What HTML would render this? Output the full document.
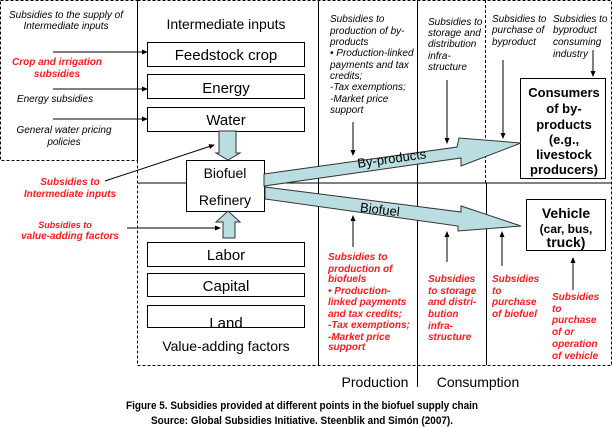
<!DOCTYPE html>
<html><head><meta charset="utf-8"><style>
html,body{margin:0;padding:0;background:#fff;width:613px;height:428px;overflow:hidden}
svg{display:block}
text{font-family:"Liberation Sans",Arial,sans-serif}
.it{font-style:italic;font-size:10px;fill:#000}
.r{font-style:italic;font-weight:bold;font-size:10px;fill:#ff1a1a}
.b{font-size:14px;fill:#000}
</style></head><body>
<svg width="613" height="428" viewBox="0 0 613 428" xmlns="http://www.w3.org/2000/svg">
<defs><marker id="a" markerWidth="6" markerHeight="6" refX="5" refY="3" orient="auto" markerUnits="userSpaceOnUse"><path d="M0,0.5 L6,3 L0,5.5z" fill="#000"/></marker>
<clipPath id="lc"><rect x="147" y="305" width="158" height="22"/></clipPath></defs>
<g fill="none" stroke="#000" stroke-width="1">
<rect x="0.5" y="0.5" width="137" height="160" stroke-dasharray="3,2"/>
<path d="M137.5,0.5 H611.5 V365.5 H137.5 Z" stroke-dasharray="3,2"/>
<line x1="137" y1="183" x2="611" y2="183"/>
<line x1="318.5" y1="0" x2="318.5" y2="365"/>
<line x1="417.5" y1="0" x2="417.5" y2="387"/>
<line x1="486.5" y1="183" x2="486.5" y2="365"/>
<path d="M485.5,0 V183 M486,183 H611" stroke-dasharray="3,2"/>
<rect x="147.5" y="42.5" width="157" height="24"/>
<rect x="147.5" y="74.5" width="157" height="24"/>
<rect x="147.5" y="107.5" width="157" height="24"/>
<rect x="186.5" y="160.5" width="78" height="51" fill="#fff"/>
<rect x="147.5" y="242.5" width="157" height="24"/>
<rect x="147.5" y="273.5" width="157" height="23"/>
<rect x="147.5" y="305.5" width="157" height="22"/>
<rect x="520.5" y="78.5" width="85" height="100"/>
<rect x="526.5" y="199.5" width="79" height="51"/>
</g>
<g fill="#b9dde0" stroke="#333" stroke-width="1">
<path d="M219,131 H236 V153 H240 L228,160 L216,153 H219 Z"/>
<path d="M228,211 L240,222 H235 V238 H223 V222 H216 Z"/>
<path d="M264,174 L457,147 L459,138 L521,143 L461,166 L461,158 L264,186 Z"/>
<path d="M265,187 L461,212 L461,206 L521,226 L458,231 L458,226 L265,199 Z"/>
</g>
<g stroke="#000" stroke-width="1" marker-end="url(#a)">
<line x1="53" y1="52" x2="147" y2="52"/>
<line x1="53" y1="89" x2="147" y2="89"/>
<line x1="53" y1="119" x2="147" y2="119"/>
<line x1="105" y1="181" x2="214" y2="145"/>
<line x1="127" y1="228" x2="220" y2="228"/>
<line x1="353" y1="122" x2="353" y2="155"/>
<line x1="447" y1="80" x2="447" y2="143"/>
<line x1="503" y1="60" x2="503" y2="138"/>
<line x1="593" y1="50" x2="593" y2="76"/>
<line x1="353" y1="247" x2="353" y2="216"/>
<line x1="447" y1="262" x2="447" y2="232"/>
<line x1="502" y1="266" x2="502" y2="232"/>
<line x1="573" y1="290" x2="573" y2="258"/>
</g>
<g class="it" text-anchor="middle">
<text x="66" y="18">Subsidies to the supply of</text>
<text x="66" y="29">Intermediate inputs</text>
<text x="55" y="102">Energy subsidies</text>
<text x="64" y="133">General water pricing</text>
<text x="64" y="145">policies</text>
</g>
<g class="r" text-anchor="middle">
<text x="57" y="65">Crop  and irrigation</text>
<text x="57" y="77">subsidies</text>
<text x="70" y="185">Subsidies to</text>
<text x="70" y="197">Intermediate inputs</text>
<text x="65" y="228" font-size="9">Subsidies to</text>
<text x="70" y="239">value-adding factors</text>
</g>
<g class="b" text-anchor="middle">
<text x="226" y="29">Intermediate inputs</text>
<text x="226" y="60" font-size="15">Feedstock crop</text>
<text x="226" y="93" font-size="15">Energy</text>
<text x="226" y="125" font-size="15">Water</text>
<text x="225" y="178">Biofuel</text>
<text x="225" y="205">Refinery</text>
<text x="226" y="260" font-size="15">Labor</text>
<text x="226" y="291" font-size="15">Capital</text>
<text x="226" y="328" font-size="15" clip-path="url(#lc)">Land</text>
<text x="226" y="351">Value-adding factors</text>
<text x="375" y="387">Production</text>
<text x="478" y="387">Consumption</text>
</g>
<text x="357" y="163" font-size="13" transform="rotate(-8 392 158)">By-products</text>
<text x="360" y="214" font-size="13" transform="rotate(7 380 210)">Biofuel</text>
<g font-weight="bold" font-size="13" text-anchor="middle">
<text x="564" y="97">Consumers</text>
<text x="564" y="113">of by-</text>
<text x="564" y="129">products</text>
<text x="564" y="144">(e.g.,</text>
<text x="564" y="159">livestock</text>
<text x="564" y="174">producers)</text>
<text x="566" y="218" font-size="14">Vehicle</text>
<text x="566" y="233" font-size="12">(car, bus,</text>
<text x="566" y="247" font-size="14">truck)</text>
</g>
<g class="it">
<text x="330" y="22">Subsidies to</text>
<text x="330" y="34">production of by-</text>
<text x="330" y="45">products</text>
<text x="330" y="56">• Production-linked</text>
<text x="330" y="68">payments and tax</text>
<text x="330" y="79">credits;</text>
<text x="330" y="90">-Tax exemptions;</text>
<text x="330" y="102">-Market price</text>
<text x="330" y="113">support</text>
<text x="428" y="25">Subsidies to</text>
<text x="428" y="36">storage and</text>
<text x="428" y="47">distribution</text>
<text x="428" y="59">infra-</text>
<text x="428" y="70">structure</text>
<text x="492" y="22">Subsidies to</text>
<text x="492" y="33">purchase of</text>
<text x="492" y="45">byproduct</text>
<text x="553" y="22">Subsidies to</text>
<text x="553" y="33">byproduct</text>
<text x="553" y="45">consuming</text>
<text x="553" y="57">industry</text>
</g>
<g class="r">
<text x="328" y="260">Subsidies to</text>
<text x="328" y="272">production of</text>
<text x="328" y="282">biofuels</text>
<text x="328" y="294">• Production-</text>
<text x="328" y="305">linked payments</text>
<text x="328" y="317">and tax credits;</text>
<text x="328" y="328">-Tax exemptions;</text>
<text x="328" y="340">-Market price</text>
<text x="328" y="350">support</text>
<text x="428" y="282">Subsidies</text>
<text x="428" y="294">to storage</text>
<text x="428" y="305">and distri-</text>
<text x="428" y="317">bution</text>
<text x="428" y="329">infra-</text>
<text x="428" y="340">structure</text>
<text x="492" y="282">Subsidies</text>
<text x="492" y="294">to</text>
<text x="492" y="305">purchase</text>
<text x="492" y="317">of biofuel</text>
<text x="552" y="300">Subsidies</text>
<text x="552" y="312">to</text>
<text x="552" y="323">purchase</text>
<text x="552" y="335">of or</text>
<text x="552" y="347">operation</text>
<text x="552" y="359">of vehicle</text>
</g>
<g font-weight="bold" font-size="11" text-anchor="middle" fill="#000">
<text x="302" y="409" textLength="352" lengthAdjust="spacingAndGlyphs">Figure 5. Subsidies provided at different points in the biofuel supply chain</text>
<text x="302" y="424" textLength="302" lengthAdjust="spacingAndGlyphs">Source: Global Subsidies Initiative. Steenblik and Simón (2007).</text>
</g>
</svg>
</body></html>
